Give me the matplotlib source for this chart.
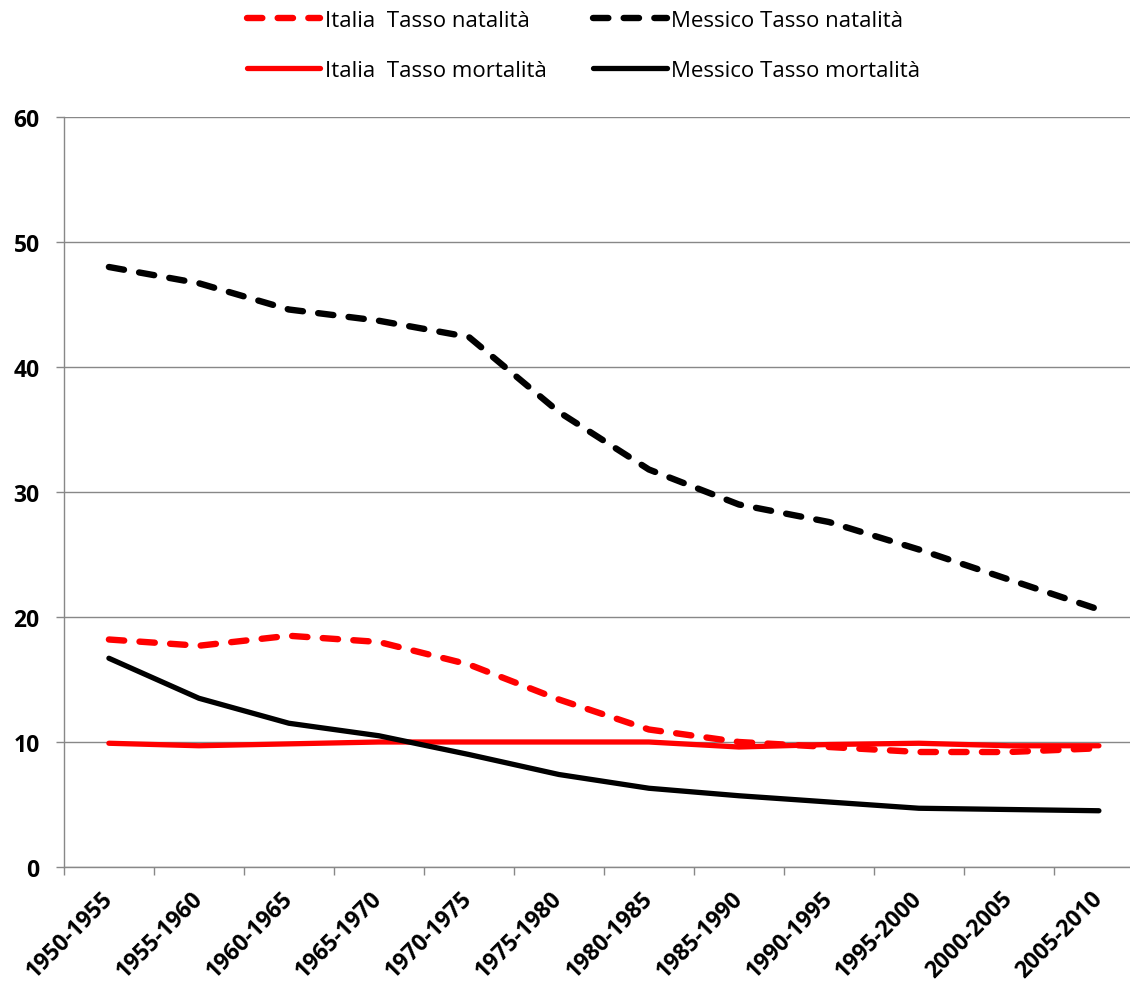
import matplotlib
matplotlib.use("Agg")
import matplotlib.pyplot as plt
import numpy as np

# Periods (quinquennia)
periods = ["1950-1955", "1955-1960", "1960-1965", "1965-1970", "1970-1975",
           "1975-1980", "1980-1985", "1985-1990", "1990-1995", "1995-2000",
           "2000-2005", "2005-2010"]

# Rates per 1000 inhabitants
italia_natalita = [18.2, 17.7, 18.5, 18.0, 16.2, 13.4, 11.0, 10.0, 9.6, 9.2, 9.2, 9.5]
italia_mortalita = [9.9, 9.7, 9.85, 10.0, 10.0, 10.0, 10.0, 9.6, 9.8, 9.9, 9.7, 9.7]
messico_natalita = [48.0, 46.7, 44.6, 43.7, 42.4, 36.4, 31.8, 29.0, 27.6, 25.4, 23.0, 20.6]
messico_mortalita = [16.7, 13.5, 11.5, 10.5, 9.0, 7.4, 6.3, 5.7, 5.2, 4.7, 4.6, 4.5]

yticks = [0, 10, 20, 30, 40, 50, 60]

W, H = 1130, 987
fig = plt.figure(figsize=(W / 100, H / 100), dpi=100)
ax = fig.add_axes([63.9 / W, 119 / H, 1080 / W, 750 / H])

x = np.arange(len(periods)) + 0.5
grid_color = "#888888"
dash_lw = 4.6
solid_lw = 3.8
dash_style = (0, (2.4, 2.4))

l1, = ax.plot(x, italia_natalita, color="#FF0000", lw=dash_lw, ls=dash_style,
              dash_capstyle="round", dash_joinstyle="round",
              label="Italia  Tasso natalità")
l2, = ax.plot(x, italia_mortalita, color="#FF0000", lw=solid_lw,
              solid_capstyle="round", solid_joinstyle="round",
              label="Italia  Tasso mortalità")
l3, = ax.plot(x, messico_natalita, color="#000000", lw=dash_lw, ls=dash_style,
              dash_capstyle="round", dash_joinstyle="round",
              label="Messico Tasso natalità")
l4, = ax.plot(x, messico_mortalita, color="#000000", lw=solid_lw,
              solid_capstyle="round", solid_joinstyle="round",
              label="Messico Tasso mortalità")

ax.set_xlim(0, len(periods))
ax.set_ylim(0, 60)

tick_font = {"fontfamily": "Open Sans", "fontweight": "bold", "fontsize": 16.5}

# Y axis
ax.set_yticks(yticks)
ax.set_yticklabels([str(v) for v in yticks], **tick_font)
ax.yaxis.grid(True, color=grid_color, lw=1.0)
ax.set_axisbelow(True)
ax.tick_params(axis="y", length=5.5, width=1.0, color=grid_color, pad=12)

# X axis: tick marks at category boundaries, labels at category centres
ax.set_xticks(np.arange(len(periods) + 1))
ax.set_xticklabels([])
ax.set_xticks(x, minor=True)
ax.set_xticklabels(periods, minor=True, rotation=45, ha="right", va="center",
                   rotation_mode="anchor", **tick_font)
ax.tick_params(axis="x", which="major", length=5.5, width=1.0, color=grid_color)
ax.tick_params(axis="x", which="minor", length=0, pad=20)

for side in ("top", "right"):
    ax.spines[side].set_visible(False)
for side in ("left", "bottom"):
    ax.spines[side].set_color(grid_color)
    ax.spines[side].set_linewidth(1.0)

fig.legend(handles=[l1, l2, l3, l4], ncol=2, frameon=False,
           loc="upper left", bbox_to_anchor=(247 / W, 1 - 11 / H),
           borderaxespad=0, borderpad=0,
           prop={"family": "Open Sans", "size": 16},
           handlelength=3.3, handletextpad=0.2, columnspacing=2.1,
           labelspacing=1.3)

fig.savefig("out.png", dpi=100)
